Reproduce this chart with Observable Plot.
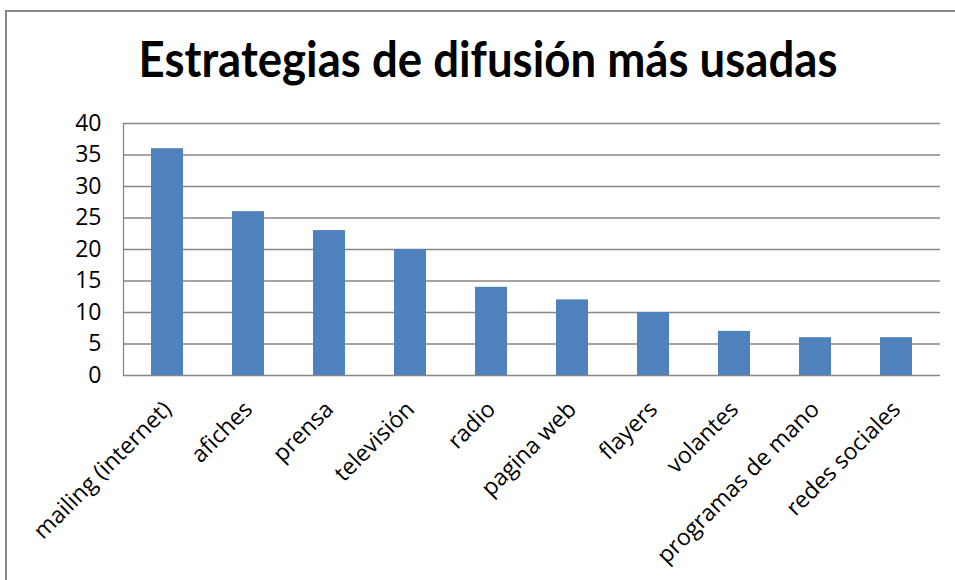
<!DOCTYPE html>
<html><head><meta charset="utf-8">
<script src="https://cdn.jsdelivr.net/npm/d3@7"></script>
<script src="https://cdn.jsdelivr.net/npm/@observablehq/plot@0.6"></script>
<style>
body{margin:0;background:#fff;width:955px;height:580px;overflow:hidden;position:relative;font-family:"Open Sans",sans-serif}
#frame{position:absolute;left:5px;top:10px;width:1000px;height:700px;border:2px solid #878787;box-sizing:border-box}
#title{position:absolute;left:0;width:976px;top:34px;text-align:center;font-weight:bold;font-size:49px;font-family:Lato,sans-serif;color:#000;line-height:1;transform:scaleX(0.93);transform-origin:488px 0}
#chart{position:absolute;left:0;top:0}
</style></head><body>
<div id="frame"></div>
<div id="title">Estrategias de difusión más usadas</div>
<div id="chart"></div>
<script>
const categories = ["mailing (internet)","afiches","prensa","televisión","radio","pagina web","flayers","volantes","programas de mano","redes sociales"];
const values = [36,26,23,20,14,12,10,7,6,6];
const yTicks = [0,5,10,15,20,25,30,35,40];
const data = categories.map((c,i)=>({categoria:c, valor:values[i]}));
const chart = Plot.plot({
  width:955, height:580,
  marginLeft:123, marginRight:15, marginTop:123, marginBottom:205,
  style:{fontFamily:"'Open Sans', sans-serif", fontSize:"23px", color:"#000", background:"transparent", overflow:"visible"},
  x:{domain:categories, paddingInner:0.6, paddingOuter:0.3, label:null},
  y:{domain:[0,40], label:null},
  marks:[
    Plot.gridY(yTicks,{stroke:"#878787", strokeOpacity:1, strokeWidth:1.3}),
    Plot.frame({anchor:"left", stroke:"#878787", strokeWidth:1.3}),
    Plot.barY(data,{x:"categoria", y:"valor", fill:"#4F81BD"}),
    Plot.axisY({ticks:yTicks, tickSize:0, tickPadding:22, fontSize:23, label:null}),
    Plot.axisX({tickRotate:-45, tickSize:0, tickPadding:30, fontSize:23, label:null})
  ]
});
document.getElementById("chart").appendChild(chart);
</script>
</body></html>
